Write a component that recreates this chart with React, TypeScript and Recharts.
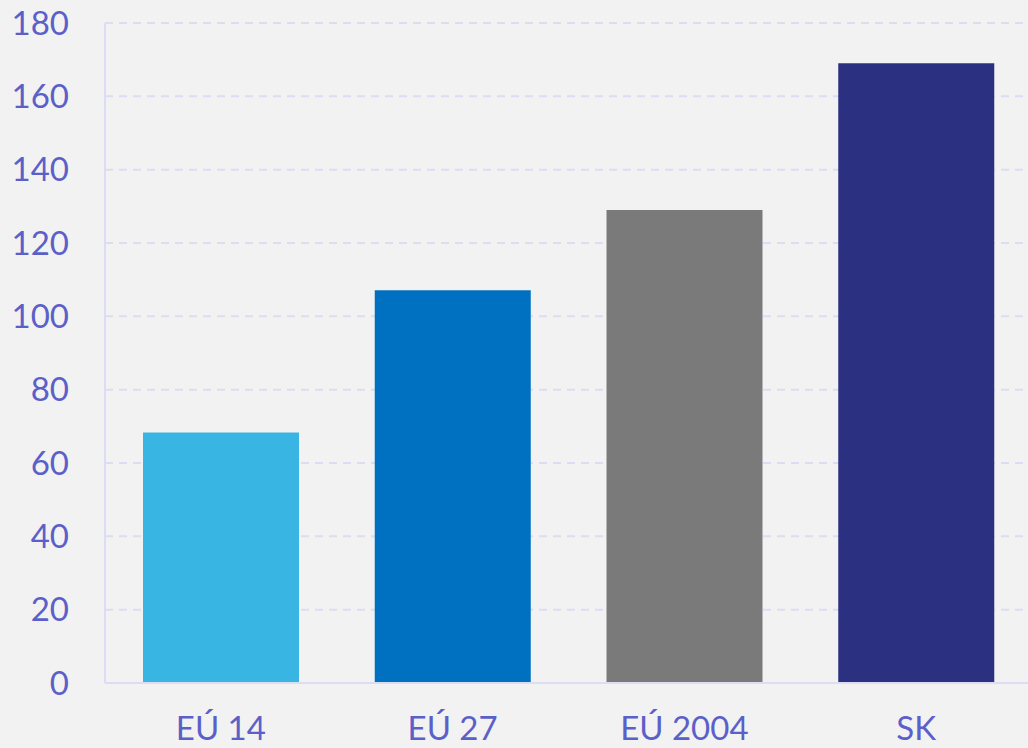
import React from "react";
import { BarChart, Bar, XAxis, YAxis, CartesianGrid, Cell } from "recharts";

const categories = ["EÚ 14", "EÚ 27", "EÚ 2004", "SK"];
const values = [68.3, 107.1, 129, 169];
const colors = ["#38b5e2", "#0070c0", "#7a7a7a", "#2b3080"];
const yTicks = [0, 20, 40, 60, 80, 100, 120, 140, 160, 180];

const data = categories.map((c, i) => ({ name: c, value: values[i] }));

const textColor = "#5b60c9";
const fontFamily = "Lato, 'Noto Sans', sans-serif";

export default function App() {
  return (
    <div style={{ position: "absolute", left: 0, top: 0, width: 1028, height: 748, background: "#f2f2f2", overflow: "hidden" }}>
      <BarChart
        width={1032}
        height={748}
        data={data}
        margin={{ top: 23, right: 0, bottom: 0, left: 0 }}
        barCategoryGap="16.4%"
      >
        <CartesianGrid vertical={false} stroke="#dcdcf2" strokeWidth={2} strokeDasharray="8 6" />
        <XAxis
          dataKey="name"
          height={65}
          tickLine={false}
          tickSize={0}
          tickMargin={34}
          axisLine={{ stroke: "#dcdcf5", strokeWidth: 2 }}
          tick={{ fill: textColor, fontSize: 33, fontFamily }}
          interval={0}
        />
        <YAxis
          width={105}
          domain={[0, 180]}
          ticks={yTicks}
          interval={0}
          tickLine={false}
          tickSize={0}
          tickMargin={36}
          axisLine={{ stroke: "#dcdcf5", strokeWidth: 2 }}
          tick={{ fill: textColor, fontSize: 33, fontFamily }}
        />
        <Bar dataKey="value" isAnimationActive={false}>
          {data.map((d, i) => (
            <Cell key={d.name} fill={colors[i]} />
          ))}
        </Bar>
      </BarChart>
    </div>
  );
}
